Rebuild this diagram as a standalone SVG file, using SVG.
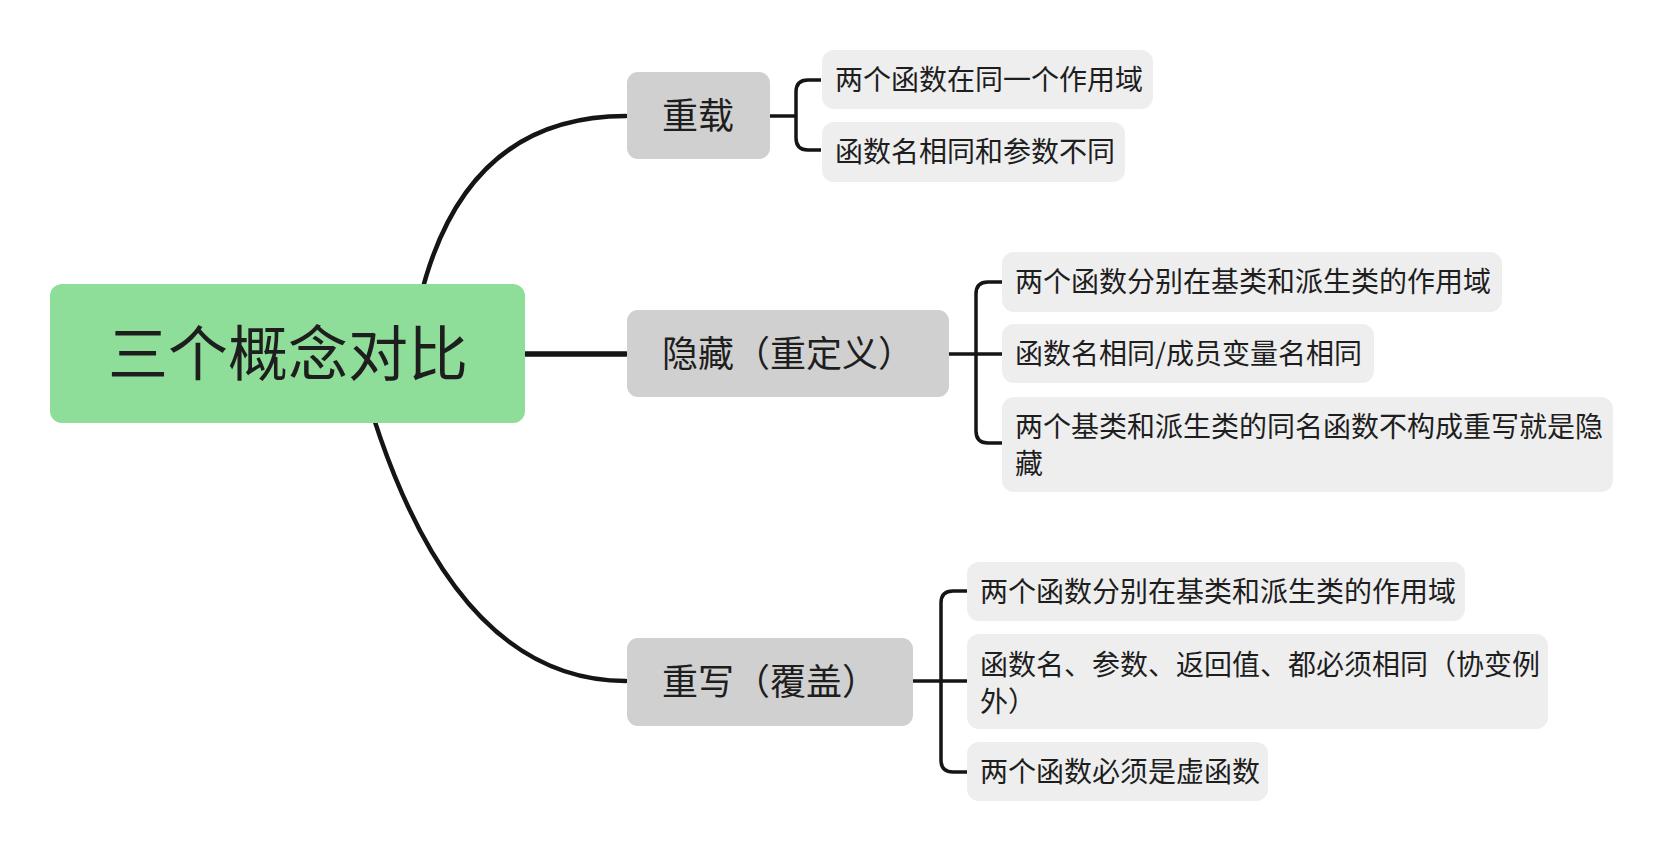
<svg xmlns="http://www.w3.org/2000/svg" width="1664" height="847" viewBox="0 0 1664 847">
<style>
.main{fill:none;stroke:#151515;stroke-width:4.5;stroke-linecap:round}
.br{fill:none;stroke:#151515;stroke-width:3.5;stroke-linejoin:round}
.root{fill:#8EDE99}
.branch{fill:#D0D0D0}
.leaf{fill:#EEEEEE}
text{font-family:"Noto Sans CJK SC","Microsoft YaHei",sans-serif;fill:#1e1e1e}
.t0{font-size:60px}
.t1{font-size:36px}
.t2{font-size:28px}
</style>
<rect width="1664" height="847" fill="#ffffff"/>
<g id="connectors">
<path class="main" d="M410 353 Q442 116 626 116"/>
<path class="main" d="M355 353 Q439 681 626 681"/>
<path class="main" d="M520 354 H626" style="stroke-width:5.5"/>
<path class="br" d="M770 116 H796"/>
<path class="br" d="M821 80 H808 Q796 80 796 92 V138 Q796 150 808 150 H821"/>
<path class="br" d="M949 354 H1002"/>
<path class="br" d="M1002 282 H988 Q976 282 976 294 V431 Q976 443 988 443 H1002"/>
<path class="br" d="M913 681 H967"/>
<path class="br" d="M967 591 H953 Q941 591 941 603 V760 Q941 772 953 772 H967"/>
</g>
<g id="root">
<rect class="root" x="50" y="284" width="475" height="139" rx="12"/>
<text class="t0" x="288" y="376" text-anchor="middle">三个概念对比</text>
</g>
<g id="n-overload">
<rect class="branch" x="627" y="72" width="143" height="87" rx="11"/>
<text class="t1" x="662" y="129">重载</text>
</g>
<g id="n-hide">
<rect class="branch" x="627" y="310" width="322" height="87" rx="11"/>
<text class="t1" x="662" y="367">隐藏（重定义）</text>
</g>
<g id="n-override">
<rect class="branch" x="627" y="638" width="286" height="88" rx="11"/>
<text class="t1" x="662" y="695">重写（覆盖）</text>
</g>
<g id="l-o1">
<rect class="leaf" x="822" y="50" width="331" height="59" rx="12"/>
<text class="t2" x="835" y="90">两个函数在同一个作用域</text>
</g>
<g id="l-o2">
<rect class="leaf" x="822" y="122" width="303" height="60" rx="12"/>
<text class="t2" x="835" y="162">函数名相同和参数不同</text>
</g>
<g id="l-h1">
<rect class="leaf" x="1002" y="252" width="500" height="60" rx="12"/>
<text class="t2" x="1015" y="292">两个函数分别在基类和派生类的作用域</text>
</g>
<g id="l-h2">
<rect class="leaf" x="1002" y="324" width="372" height="59" rx="12"/>
<text class="t2" x="1015" y="364">函数名相同/成员变量名相同</text>
</g>
<g id="l-h3">
<rect class="leaf" x="1002" y="397" width="611" height="95" rx="12"/>
<text class="t2" x="1015" y="437">两个基类和派生类的同名函数不构成重写就是隐</text>
<text class="t2" x="1015" y="474">藏</text>
</g>
<g id="l-r1">
<rect class="leaf" x="967" y="562" width="498" height="59" rx="12"/>
<text class="t2" x="980" y="602">两个函数分别在基类和派生类的作用域</text>
</g>
<g id="l-r2">
<rect class="leaf" x="967" y="634" width="581" height="95" rx="12"/>
<text class="t2" x="980" y="675">函数名、参数、返回值、都必须相同（协变例</text>
<text class="t2" x="980" y="712">外）</text>
</g>
<g id="l-r3">
<rect class="leaf" x="967" y="742" width="301" height="59" rx="12"/>
<text class="t2" x="980" y="782">两个函数必须是虚函数</text>
</g>
</svg>
